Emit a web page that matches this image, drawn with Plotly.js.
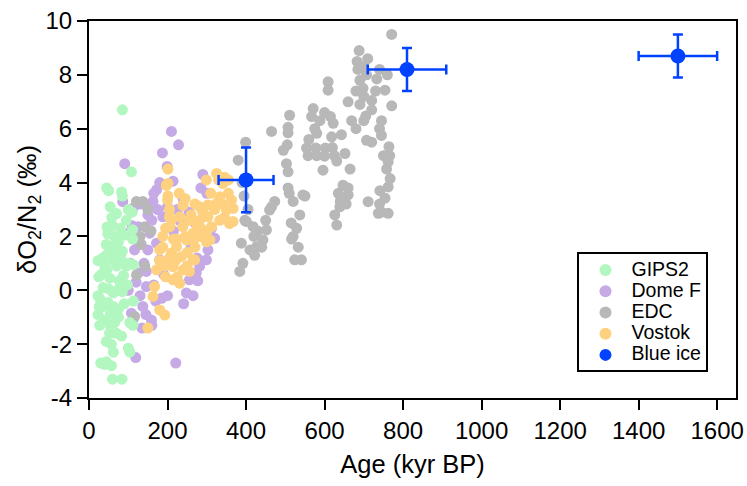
<!DOCTYPE html>
<html>
<head>
<meta charset="utf-8">
<script src="https://cdn.plot.ly/plotly-3.0.1.min.js"></script>
<style>html,body{margin:0;padding:0;background:#fff;}#chart{width:747px;height:486px;}</style>
</head>
<body>
<div id="chart"></div>
<script>
// ---- data ----
const gipsAge = [85,108,45,50,83,85,54,110,70,95,46,60,80,111,48,65,90,44,62,75,111,23,35,44,55,62,80,95,113,70,32,45,53,77,88,98,36,50,62,72,85,113,27,23,26,23,36,48,62,75,90,55,75,27,40,53,65,70,83,44,57,104,62,100,104,112,40,44,57,60,84,30,52,68,85,100,58,100,40,92,25];
const gipsVal = [6.7,4.4,3.8,3.7,3.65,3.5,3.1,2.9,2.85,2.6,2.35,2.4,2.3,2.25,2.1,2.0,2.05,1.7,1.65,1.8,1.9,1.1,1.2,1.3,1.35,1.1,1.2,0.9,0.95,0.9,0.6,0.75,0.45,0.35,0.55,0.2,0.1,0.05,-0.1,0.0,-0.05,-0.4,-0.3,-0.2,-0.6,-0.9,-0.6,-0.45,-0.6,-0.7,-0.5,-0.85,-1.0,-1.3,-1.1,-1.3,-1.2,-1.6,-1.7,-1.9,-2.0,-2.3,-2.3,-2.15,-1.2,-1.3,-2.75,-2.65,-2.8,-3.3,-3.3,-2.7,-1.6,1.5,1.45,1.0,2.7,3.0,0.9,0.2,0.5];

const domefAge = [91,210,228,187,199,214,290,172,86,163,112,188,125,231,155,172,312,320,116,180,303,299,125,146,273,256,146,248,137,241,159,119,221,108,277,282,95,105,130,150,175,200,215,140,150,165,170,185,130,145,160,135,120,260,275,285,300,240,225,190,200,255,270,290,100,112,265,180,165,160,110,125];
const domefVal = [4.7,5.9,5.4,5.1,4.6,4.05,4.3,3.73,3.29,3.3,3.05,2.73,2.36,2.6,2.12,1.75,2.3,1.93,1.5,1.13,1.5,1.13,0.64,0.7,0.64,0.39,0.14,-0.1,-0.6,-0.5,-1.1,-2.5,-2.7,-0.85,0.35,0.9,2.1,1.0,3.2,2.8,3.0,3.1,2.2,1.0,1.5,0.2,-0.4,-0.3,-0.2,-0.9,-1.3,-1.4,0.3,1.6,1.2,3.8,3.6,3.4,3.0,0.6,-0.2,2.9,2.5,2.0,0.0,-1.1,-0.2,4.0,3.6,2.6,2.4,1.8];

const edcAge = [121,137,142,133,142,121,116,150,130,158,771,688,683,685,707,733,754,698,720,771,660,609,609,705,745,669,571,567,588,622,511,507,507,465,580,618,643,707,720,745,764,766,554,578,602,558,580,600,652,631,665,762,503,596,507,507,399,380,767,762,741,754,647,635,660,545,520,473,460,537,550,711,737,762,639,626,631,529,516,533,524,541,397,401,418,452,443,388,427,422,392,384,575,615,700,680,690,730,600,690,720,750,758,740,745,655,510,515,520,390,395,405,420,430,410,440,450,465,640,660,760,740,710,700,505,495,560,620,625,680,700,740];
const edcVal = [3.3,3.3,2.36,1.7,0.9,0.57,-0.97,3.0,2.0,2.2,9.5,8.9,8.5,8.2,8.0,7.85,7.43,7.5,7.05,6.85,7.0,7.74,7.43,6.47,6.3,6.3,6.75,6.45,6.3,6.2,6.5,6.05,5.85,5.9,5.83,5.7,5.78,5.57,5.5,5.75,5.33,5.0,5.28,5.28,5.28,5.0,5.0,4.98,5.08,4.8,4.5,4.77,4.7,4.46,4.4,3.8,5.5,4.83,4.15,3.84,3.7,3.42,3.9,3.6,3.54,3.54,3.3,3.3,2.98,2.8,3.5,3.29,2.86,2.86,3.1,2.8,2.42,2.3,1.9,1.6,1.13,1.13,2.6,2.55,2.36,2.24,1.87,1.75,1.62,1.3,1.0,0.7,6.0,6.45,7.2,7.4,7.8,7.4,6.6,6.9,6.7,5.0,4.5,3.2,2.9,3.2,3.6,2.5,2.0,4.0,3.5,3.0,2.0,2.2,1.5,1.6,2.6,3.1,3.3,3.8,8.0,8.2,8.6,8.3,5.4,5.2,5.6,5.3,5.0,6.0,6.3,6.0];

const vostokAge = [201,201,201,205,240,231,256,206,265,282,188,223,248,299,180,210,235,265,172,214,240,256,214,231,167,163,180,193,150,299,325,341,333,363,282,303,325,350,367,358,333,312,303,282,239,265,269,213,197,200,205,239,188,223,180,195,220,250,245,260,275,290,310,320,340,355,345,355,345,330,230,215,205,195,270,285,300,225,250,210,190,245,270,308,367];
const vostokVal = [4.5,3.97,3.5,3.0,3.17,2.73,2.6,2.36,2.12,2.0,2.0,1.62,1.87,1.8,1.5,1.38,1.25,1.13,0.76,0.88,0.76,0.7,0.39,0.26,0.14,-0.23,-0.73,-0.92,-1.4,4.1,4.34,3.97,3.47,3.35,3.1,3.17,3.23,2.98,3.04,2.48,2.6,2.36,2.73,2.6,2.36,1.85,1.13,0.88,3.9,3.35,2.73,3.15,1.6,1.9,1.1,0.5,1.1,1.4,2.0,2.8,2.4,2.9,3.6,3.0,3.2,3.6,2.7,4.1,4.2,4.1,3.6,1.9,1.2,2.3,1.6,2.3,2.2,0.5,0.9,2.6,0.9,3.4,3.2,1.87,2.55];

const blueAge = [400, 810, 1500];
const blueVal = [4.1, 8.2, 8.7];
const blueAgeErr = [70, 100, 100];
const blueValErr = [1.2, 0.8, 0.8];

const xTicks = [0,200,400,600,800,1000,1200,1400,1600];
const yTicks = [-4,-2,0,2,4,6,8,10];
const legendNames = ['GIPS2','Dome F','EDC','Vostok','Blue ice'];

// ---- styling ----
const FONT = 'Liberation Sans, Arial, Helvetica, sans-serif';
const MS = 11;
const lg = n => '<span style="font-size:19.5px">' + n + '</span>';
function sc(name, x, y, color, rank) {
  return {type:'scatter', mode:'markers', name:lg(name), x:x, y:y, legendrank:rank,
    marker:{color:color, size:MS, line:{width:0}}};
}
const traces = [
  sc(legendNames[1], domefAge, domefVal, 'rgb(197,170,230)', 2),
  sc(legendNames[2], edcAge, edcVal, 'rgb(184,184,184)', 3),
  sc(legendNames[3], vostokAge, vostokVal, 'rgb(254,209,128)', 4),
  sc(legendNames[0], gipsAge, gipsVal, 'rgb(178,246,192)', 1),
  {type:'scatter', mode:'markers', name:lg(legendNames[4]), x:blueAge, y:blueVal, legendrank:5,
    marker:{color:'rgb(0,66,255)', size:15},
    error_x:{type:'data', array:blueAgeErr, visible:true, color:'rgb(0,66,255)', thickness:2.5, width:5},
    error_y:{type:'data', array:blueValErr, visible:true, color:'rgb(0,66,255)', thickness:2.5, width:5}}
];

const axBase = {showgrid:false, zeroline:false, showline:true, linecolor:'#000', linewidth:2,
  ticks:'outside', ticklen:10, tickwidth:2, tickcolor:'#000',
  tickfont:{family:FONT, size:24, color:'#000'}, mirror:true};

const layout = {
  width:747, height:486,
  margin:{l:89, r:11, t:21, b:88},
  paper_bgcolor:'#fff', plot_bgcolor:'#fff',
  showlegend:true,
  legend:{x:0.755, y:0.386, xanchor:'left', yanchor:'top', bgcolor:'#fff',
    bordercolor:'#000', borderwidth:2, font:{family:FONT, size:14, color:'#000'},
    tracegroupgap:0, itemwidth:42, itemsizing:'constant'},
  xaxis:Object.assign({}, axBase, {range:[0,1648], tickvals:xTicks, ticktext:xTicks.map(String),
    title:{text:'Age (kyr BP)', font:{family:FONT, size:25.5, color:'#000'}, standoff:12}}),
  yaxis:Object.assign({}, axBase, {range:[-4,10], tickvals:yTicks, ticktext:yTicks.map(String),
    title:{text:'δO<sub>2</sub>/N<sub>2</sub> (‰)', font:{family:FONT, size:25.5, color:'#000'}, standoff:2}})
};

Plotly.newPlot('chart', traces, layout, {displayModeBar:false, staticPlot:true});
</script>
</body>
</html>
